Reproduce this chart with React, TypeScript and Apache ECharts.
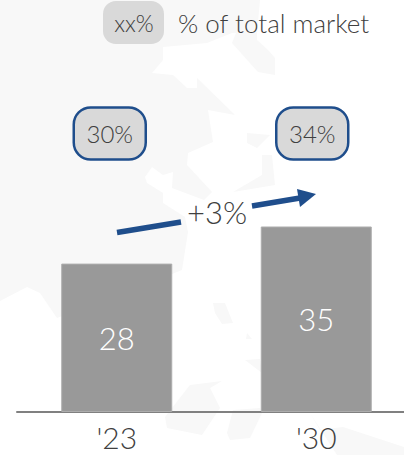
import React, { useEffect, useRef } from "react";
import * as echarts from "echarts";

const years = ["'23", "'30"];
const marketSize = [28, 35];
const marketShare = ["30%", "34%"];
const legendSwatch = "xx%";
const legendLabel = "% of total market";
const growthLabel = "+3%";

const BLUE = "#1f4e8c";
const PILL = "#d9d9d9";
const INK = "#404040";
const MAP = "#f8f8f8";
const FONT = "Lato, Roboto, sans-serif";

// The pills are not quite centred over their bars
const pillShift = [-7, -4];

// Faint map silhouette behind the chart
const mapShapes: number[][][] = [
  [[0, 0], [260, 0], [257, 33], [232, 33], [207, 43], [163, 47], [163, 60], [152, 73], [173, 75], [187, 88], [197, 88], [197, 78], [235, 115], [208, 110], [213, 142], [188, 153], [187, 165], [212, 192], [204, 200], [172, 188], [173, 172], [163, 175], [152, 167], [145, 177], [147, 183], [163, 193], [163, 203], [185, 217], [188, 232], [182, 270], [172, 274], [57, 318], [40, 293], [27, 287], [0, 301]],
  [[232, 43], [236, 33], [257, 33], [257, 40], [268, 50], [275, 58], [275, 75], [258, 72]],
  [[247, 133], [270, 135], [257, 148], [247, 143]],
  [[262, 155], [272, 155], [275, 185], [233, 192], [262, 175]],
  [[213, 303], [225, 303], [233, 323], [222, 324], [215, 313]],
  [[247, 333], [252, 339], [246, 339]],
  [[245, 360], [260, 359], [262, 373]],
  [[190, 385], [222, 381], [210, 388], [220, 408], [202, 435], [167, 428], [165, 417]],
  [[233, 410], [260, 408], [262, 413], [250, 438], [230, 440], [227, 433]],
  [[310, 413], [320, 430], [343, 427], [404, 447], [404, 455], [337, 455]],
];

export default function App() {
  const ref = useRef<HTMLDivElement>(null);

  useEffect(() => {
    document.body.style.margin = "0";
    const chart = echarts.init(ref.current!, null, { renderer: "svg" });

    chart.setOption({
      animation: false,
      grid: { left: 17, top: 41, width: 399, height: 371, containLabel: false },
      xAxis: {
        type: "category",
        data: years,
        axisLine: { lineStyle: { color: "#808080", width: 2 } },
        axisTick: { show: false },
        axisLabel: { color: INK, fontFamily: FONT, fontWeight: 300, fontSize: 30, lineHeight: 30, margin: 10, interval: 0 },
      },
      yAxis: { type: "value", min: 0, max: 70, show: false },
      series: [
        {
          type: "bar",
          data: marketSize,
          barWidth: 111,
          itemStyle: { color: "#999999", borderColor: "#adadad", borderWidth: 1 },
          label: {
            show: true,
            position: "inside",
            color: "#ffffff",
            fontFamily: FONT,
            fontWeight: 300,
            fontSize: 31,
          },
          z: 3,
        },
        {
          // Share-of-market pills sit on a fixed row above each bar
          type: "custom",
          data: marketShare.map((share, i) => [i, share]),
          encode: { x: 0 },
          silent: true,
          renderItem: (_: unknown, api: any) => {
            const index = api.value(0);
            const cx = api.coord([index, 0])[0] + pillShift[index];
            const cy = 133.5;
            return {
              type: "group",
              children: [
                {
                  type: "rect",
                  shape: { x: cx - 36, y: cy - 26, width: 72, height: 52, r: 17 },
                  style: { fill: PILL, stroke: BLUE, lineWidth: 2.5 },
                },
                {
                  type: "text",
                  style: {
                    x: cx,
                    y: cy,
                    text: marketShare[index],
                    fill: INK,
                    fontFamily: FONT,
                    fontWeight: 300,
                    fontSize: 24,
                    align: "center",
                    verticalAlign: "middle",
                  },
                },
              ],
            };
          },
          z: 4,
        },
      ],
      graphic: [
        ...mapShapes.map((points) => ({
          type: "polygon",
          z: -10,
          silent: true,
          shape: { points },
          style: { fill: MAP },
        })),
        {
          type: "rect",
          shape: { x: 103, y: 1, width: 61, height: 43, r: 13 },
          style: { fill: PILL },
        },
        {
          type: "text",
          x: 134,
          y: 23,
          style: { text: legendSwatch, fill: INK, fontFamily: FONT, fontWeight: 300, fontSize: 23, align: "center", verticalAlign: "middle" },
        },
        {
          type: "text",
          x: 178,
          y: 23,
          style: { text: legendLabel, fill: INK, fontFamily: FONT, fontWeight: 300, fontSize: 26, align: "left", verticalAlign: "middle" },
        },
        {
          type: "line",
          shape: { x1: 117, y1: 232.5, x2: 181, y2: 222 },
          style: { stroke: BLUE, lineWidth: 5.5 },
        },
        {
          type: "line",
          shape: { x1: 252, y1: 206, x2: 300, y2: 198 },
          style: { stroke: BLUE, lineWidth: 5.5 },
        },
        {
          type: "polygon",
          shape: { points: [[316, 194], [297, 189], [300, 207]] },
          style: { fill: BLUE },
        },
        {
          type: "text",
          x: 217,
          y: 212,
          style: { text: growthLabel, fill: INK, fontFamily: FONT, fontWeight: 300, fontSize: 31, align: "center", verticalAlign: "middle" },
        },
      ],
    });

    return () => chart.dispose();
  }, []);

  // The plot runs past the right edge of the page, so the chart div is wider than its clipping frame
  return (
    <div style={{ position: "absolute", left: 0, top: 0, width: 404, height: 455, overflow: "hidden" }}>
      <div ref={ref} style={{ width: 416, height: 455 }} />
    </div>
  );
}
